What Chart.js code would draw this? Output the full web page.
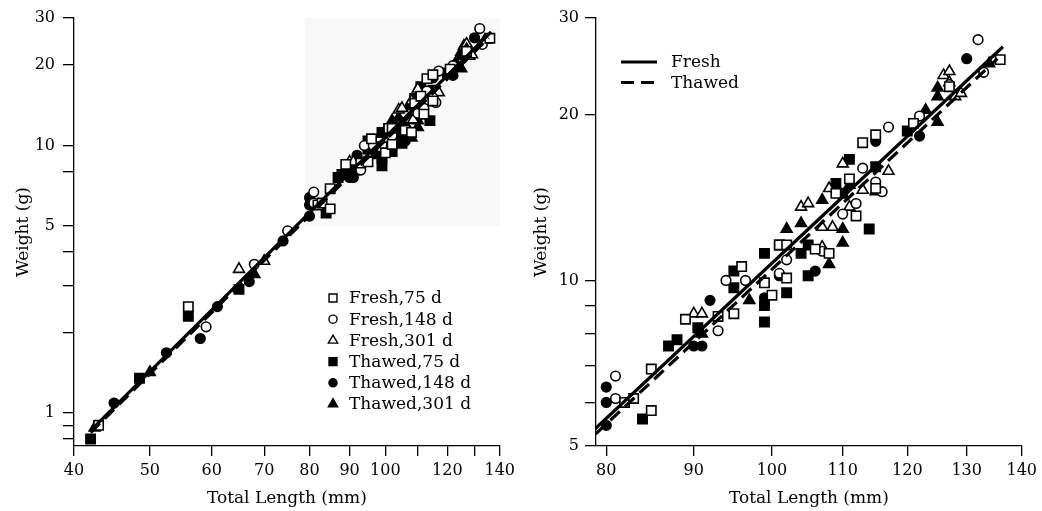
<!DOCTYPE html>
<html>
<head>
<meta charset="utf-8">
<script src="https://cdn.jsdelivr.net/npm/chart.js@4.4.0/dist/chart.umd.min.js"></script>
<style>
body{margin:0;background:#fff;width:1042px;height:511px;position:relative;overflow:hidden}
.box{position:absolute;top:0;height:511px}
#boxA{left:0;width:520px}
#boxB{left:520px;width:522px}
</style>
</head>
<body>
<div class="box" id="boxA"><canvas id="left"></canvas></div>
<div class="box" id="boxB"><canvas id="right"></canvas></div>
<script>
const FONT = '"DejaVu Serif", "Liberation Serif", serif';

// Fresh, 75 d
const fresh75L = [43, 56, 82, 83, 85, 85, 89, 93, 95, 96, 99, 100, 101, 102, 102, 106, 108, 109, 111, 112, 113, 115, 115, 121, 127, 136];
const fresh75W = [0.90, 2.5, 6.0, 6.1, 6.9, 5.8, 8.5, 8.6, 8.7, 10.6, 9.9, 9.4, 11.6, 11.6, 10.1, 11.4, 11.2, 14.4, 15.3, 13.1, 17.8, 18.4, 14.7, 19.3, 22.5, 25.2];
// Fresh, 148 d
const fresh148L = [59, 68, 75, 81, 81, 93, 94, 96.5, 101, 102, 107, 110, 112, 113, 115, 116, 117, 122, 127, 132, 133];
const fresh148W = [2.1, 3.6, 4.8, 6.7, 6.1, 8.1, 10.0, 10.0, 10.3, 10.9, 11.3, 13.2, 13.8, 16.0, 15.1, 14.5, 19.0, 19.9, 22.7, 27.4, 23.9];
// Fresh, 301 d
const fresh301L = [65, 70, 90, 91, 104, 105, 107, 107, 108.5, 108, 110, 111, 113, 117, 126, 127, 127, 128, 129];
const fresh301W = [3.45, 3.7, 8.7, 8.7, 13.6, 13.8, 12.5, 11.5, 12.5, 14.7, 16.3, 13.6, 14.6, 15.8, 23.6, 24.0, 22.9, 21.6, 21.9];
// Thawed, 75 d
const thawed75L = [42, 48.5, 56, 65, 84, 87, 88, 90.5, 95, 95, 99, 99, 99, 101, 102, 104, 105, 105, 109, 110, 111, 114, 115, 120];
const thawed75W = [0.80, 1.35, 2.3, 2.9, 5.6, 7.6, 7.8, 8.2, 10.4, 9.7, 11.2, 9.0, 8.4, 11.6, 9.5, 11.2, 11.6, 10.2, 15.0, 14.4, 16.6, 12.4, 16.1, 18.7];
// Thawed, 148 d
const thawed148L = [45, 52.5, 58, 61, 67, 74, 80, 80, 80, 90, 91, 92, 99, 101, 106, 115, 122, 130];
const thawed148W = [1.09, 1.68, 1.9, 2.5, 3.1, 4.4, 6.4, 6.0, 5.45, 7.6, 7.6, 9.2, 9.3, 10.2, 10.4, 17.9, 18.3, 25.3];
// Thawed, 301 d
const thawed301L = [42.5, 50, 68, 91, 97, 102, 104, 107, 108, 110, 110, 111, 115, 123, 125, 125, 125, 134];
const thawed301W = [0.88, 1.42, 3.3, 8.0, 9.2, 12.4, 12.7, 14.0, 10.7, 11.7, 12.4, 14.9, 14.5, 20.4, 22.4, 21.6, 19.4, 24.8];

// regression lines (end points)
const freshLineL = [42, 136.5];
const freshLineW = [0.86, 26.6];
const thawedLineL = [42, 135.5];
const thawedLineW = [0.845, 25.3];

// axes
const leftXTicks = [40, 50, 60, 70, 80, 90, 100, 110, 120, 130, 140];
const leftXLabels = [40, 50, 60, 70, 80, 90, 100, 120, 140];
const leftYTicks = [0.8, 0.9, 1, 2, 3, 4, 5, 8, 10, 20, 30];
const leftYLabels = [1, 5, 10, 20, 30];
const rightXTicks = [80, 90, 100, 110, 120, 130, 140];
const rightYTicks = [5, 6, 7, 8, 9, 10, 20, 30];
const rightYLabels = [5, 10, 20, 30];
const zoomX = [78.9, 140];
const zoomY = [5, 30];

const seriesNames = ['Fresh,75 d', 'Fresh,148 d', 'Fresh,301 d', 'Thawed,75 d', 'Thawed,148 d', 'Thawed,301 d'];
const seriesL = [fresh75L, fresh148L, fresh301L, thawed75L, thawed148L, thawed301L];
const seriesW = [fresh75W, fresh148W, fresh301W, thawed75W, thawed148W, thawed301W];
const styles = ['rect', 'circle', 'triangle', 'rect', 'circle', 'triangle'];
const radii = {rect: 6.6, circle: 4.8, triangle: 6.3};

function pts(xs, ys){ return xs.map((x, i) => ({x: x, y: ys[i]})); }

function buildDatasets(){
    const ds = [
        {label: 'Fresh', data: pts(freshLineL, freshLineW), showLine: true, borderColor: '#000', borderWidth: 3.2, pointRadius: 0, fill: false},
        {label: 'Thawed', data: pts(thawedLineL, thawedLineW), showLine: true, borderColor: '#000', borderWidth: 3.2, borderDash: [13, 7], pointRadius: 0, fill: false}
    ];
    seriesNames.forEach((name, i) => {
        const open = i < 3;
        ds.push({
            label: name,
            data: pts(seriesL[i], seriesW[i]),
            pointStyle: styles[i],
            pointRadius: radii[styles[i]],
            backgroundColor: open ? '#fff' : '#000',
            borderColor: '#000',
            borderWidth: 1.6,
            showLine: false
        });
    });
    return ds;
}

function drawMarker(ctx, style, r, x, y, open){
    ctx.save();
    ctx.fillStyle = open ? '#fff' : '#000';
    ctx.strokeStyle = '#000';
    ctx.lineWidth = 1.4;
    if (Chart.helpers && Chart.helpers.drawPoint) {
        Chart.helpers.drawPoint(ctx, {pointStyle: style, radius: r, rotation: 0, borderWidth: 1.4}, x, y);
    } else {
        ctx.beginPath();
        if (style === 'circle') ctx.arc(x, y, r, 0, Math.PI * 2);
        else if (style === 'rect') { const s = r * Math.SQRT1_2; ctx.rect(x - s, y - s, 2 * s, 2 * s); }
        else { ctx.moveTo(x, y - r); ctx.lineTo(x + r * 0.866, y + r / 2); ctx.lineTo(x - r * 0.866, y + r / 2); ctx.closePath(); }
        ctx.fill(); ctx.stroke();
    }
    ctx.restore();
}

const shadeBox = {
    id: 'shadeBox',
    beforeDatasetsDraw(chart, args, opts){
        if (!opts.on) return;
        const {ctx, scales: {x, y}} = chart;
        const x0 = x.getPixelForValue(zoomX[0]), x1 = x.getPixelForValue(zoomX[1]);
        const y0 = y.getPixelForValue(zoomY[1]), y1 = y.getPixelForValue(zoomY[0]);
        ctx.save();
        ctx.fillStyle = '#f8f8f8';
        ctx.fillRect(x0, y0, x1 - x0, y1 - y0);
        ctx.restore();
    }
};

const innerLegend = {
    id: 'innerLegend',
    afterDraw(chart, args, opts){
        const ctx = chart.ctx;
        ctx.save();
        ctx.font = '17px ' + FONT;
        ctx.fillStyle = '#000';
        ctx.textBaseline = 'middle';
        if (opts.kind === 'points') {
            seriesNames.forEach((name, i) => {
                const y = 298 + i * 21.2;
                drawMarker(ctx, styles[i], radii[styles[i]] * 0.85, 333, y, i < 3);
                ctx.fillStyle = '#000';
                ctx.fillText(name, 349, y + 1);
            });
        } else if (opts.kind === 'lines') {
            ['Fresh', 'Thawed'].forEach((name, i) => {
                const y = 62 + i * 20.5;
                ctx.beginPath();
                ctx.setLineDash(i === 0 ? [] : [13, 7]);
                ctx.lineWidth = 3;
                ctx.strokeStyle = '#000';
                ctx.moveTo(101, y);
                ctx.lineTo(137, y);
                ctx.stroke();
                ctx.setLineDash([]);
                ctx.fillText(name, 151, y + 1);
            });
        }
        ctx.restore();
    }
};

function axisX(min, max, tickVals, labelVals, text){
    return {
        type: 'logarithmic', min: min, max: max,
        afterBuildTicks: s => { s.ticks = tickVals.map(v => ({value: v})); },
        afterFit: s => { s.height = 65; },
        ticks: {
            autoSkip: false, maxRotation: 0, color: '#000', padding: 5,
            font: {family: FONT, size: 16},
            callback: v => labelVals.includes(v) ? String(v) : ''
        },
        grid: {drawOnChartArea: false, tickLength: 10, color: '#000', lineWidth: 1.3},
        border: {color: '#000', width: 1.3},
        title: {display: true, text: text, color: '#000', font: {family: FONT, size: 17}, padding: {top: 2, bottom: 2}}
    };
}

function axisY(min, max, tickVals, labelVals, width, pad){
    return {
        type: 'logarithmic', min: min, max: max,
        afterBuildTicks: s => { s.ticks = tickVals.map(v => ({value: v})); },
        afterFit: s => { s.width = width; },
        ticks: {
            autoSkip: false, color: '#000', padding: pad,
            font: {family: FONT, size: 16},
            callback: v => labelVals.includes(v) ? String(v) : ''
        },
        grid: {drawOnChartArea: false, tickLength: 11, color: '#000', lineWidth: 1.3},
        border: {color: '#000', width: 1.3},
        title: {display: true, text: 'Weight (g)', color: '#000', font: {family: FONT, size: 17}, padding: {top: 0, bottom: 4}}
    };
}

function commonPlugins(extra){
    return Object.assign({legend: {display: false}, tooltip: {enabled: false}}, extra);
}

new Chart(document.getElementById('left'), {
    type: 'scatter',
    data: {datasets: buildDatasets()},
    options: {
        responsive: true, maintainAspectRatio: false, animation: false,
        layout: {padding: {left: 13, right: 19, top: 18, bottom: 0}},
        scales: {
            x: axisX(40, 140, leftXTicks, leftXLabels, 'Total Length (mm)'),
            y: axisY(0.753, 30, leftYTicks, leftYLabels, 61, 8)
        },
        plugins: commonPlugins({shadeBox: {on: true}, innerLegend: {kind: 'points'}})
    },
    plugins: [shadeBox, innerLegend]
});

new Chart(document.getElementById('right'), {
    type: 'scatter',
    data: {datasets: buildDatasets()},
    options: {
        responsive: true, maintainAspectRatio: false, animation: false,
        layout: {padding: {left: 11, right: 15, top: 18, bottom: 0}},
        scales: {
            x: axisX(zoomX[0], zoomX[1], rightXTicks, rightXTicks, 'Total Length (mm)'),
            y: axisY(zoomY[0], zoomY[1], rightYTicks, rightYLabels, 65, 6)
        },
        plugins: commonPlugins({shadeBox: {on: false}, innerLegend: {kind: 'lines'}})
    },
    plugins: [shadeBox, innerLegend]
});
</script>
</body>
</html>
